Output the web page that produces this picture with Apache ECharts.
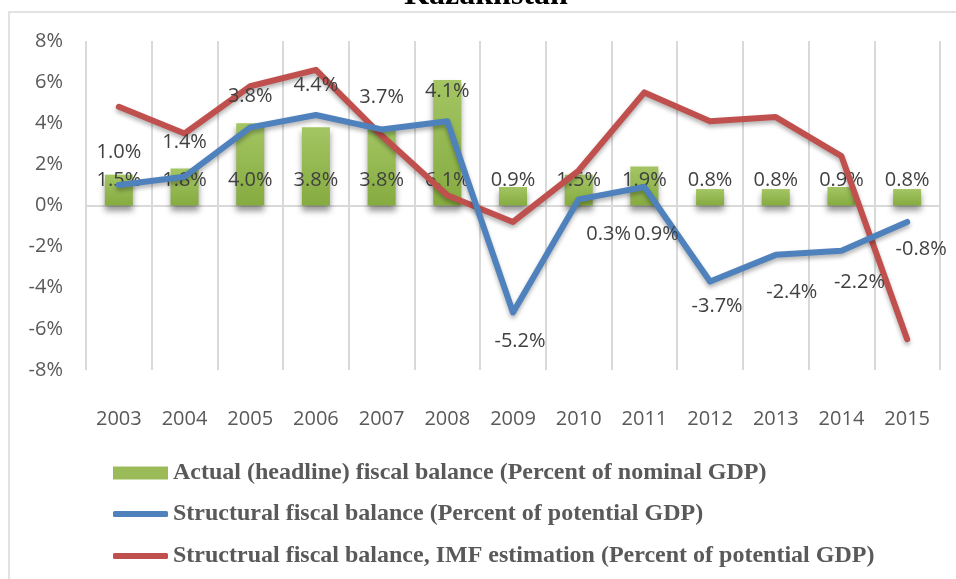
<!DOCTYPE html>
<html>
<head>
<meta charset="utf-8">
<script src="https://cdn.jsdelivr.net/npm/echarts@6/dist/echarts.min.js"></script>
<style>
  html, body { margin: 0; padding: 0; background: #ffffff; }
  #chart { width: 956px; height: 579px; }
</style>
</head>
<body>
<div id="chart"></div>
<script>
// ---- Data ----
const titleText = 'Kazakhstan';
const years = ['2003','2004','2005','2006','2007','2008','2009','2010','2011','2012','2013','2014','2015'];
const actualBalance = [1.5, 1.8, 4.0, 3.8, 3.8, 6.1, 0.9, 1.5, 1.9, 0.8, 0.8, 0.9, 0.8];
const structuralBalance = [1.0, 1.4, 3.8, 4.4, 3.7, 4.1, -5.2, 0.3, 0.9, -3.7, -2.4, -2.2, -0.8];
const imfStructuralBalance = [4.8, 3.5, 5.8, 6.6, 3.4, 0.5, -0.8, 1.7, 5.5, 4.1, 4.3, 2.4, -6.5];
const seriesNames = [
  'Actual (headline) fiscal balance (Percent of nominal GDP)',
  'Structural fiscal balance (Percent of potential GDP)',
  'Structrual fiscal balance, IMF estimation (Percent of potential GDP)'
];
const yTicks = { min: -8, max: 8, interval: 2 };

// ---- Styling (label placement for the structural line, as in reference) ----
const structLabelOffsets = [[0,-33],[0,-34],[0,-31],[0,-30],[0,-32],[0,-30],[7,29],[30,35],[12,47],[7,25],[16,37],[18,32],[14,27]];

const GREEN = '#9bbb59', BLUE = '#4f81bd', RED = '#c0504d';
const labelFont = { fontFamily: '"Open Sans", sans-serif', fontSize: 20, color: '#404040' };
const legendText = { fontFamily: '"Liberation Serif", serif', fontWeight: 'bold', fontSize: 24, color: '#595959' };

const structData = structuralBalance.map((v, i) => ({
  value: v,
  label: { offset: structLabelOffsets[i] }
}));

function legendFor(name, top, color, h) {
  return {
    orient: 'vertical', left: 108, top: top,
    itemWidth: 55, itemHeight: h,
    icon: h > 8 ? 'rect' : 'roundRect',
    itemStyle: { color: color, borderWidth: 0 },
    textStyle: legendText,
    data: [name]
  };
}

const chart = echarts.init(document.getElementById('chart'), null, { renderer: 'canvas' });
chart.setOption({
  animation: false,
  backgroundColor: '#ffffff',
  graphic: [
    { type: 'rect', shape: { x: 9, y: 12, width: 980, height: 620 }, style: { fill: 'none', stroke: '#d9d9d9', lineWidth: 1.5 }, z: -10, silent: true },
    { type: 'text', x: 486, y: 12, style: { text: titleText, font: 'bold 32px "Liberation Serif", serif', fill: '#000000', align: 'center', verticalAlign: 'bottom' }, z: 10 }
  ],
  grid: { left: 86, right: 16, top: 41, bottom: 209, containLabel: false },
  legend: [
    legendFor(seriesNames[0], 456, GREEN, 13),
    legendFor(seriesNames[1], 497, BLUE, 6),
    legendFor(seriesNames[2], 539, RED, 6)
  ],
  xAxis: {
    type: 'category',
    data: years,
    boundaryGap: true,
    axisLine: { show: false },
    axisTick: { show: false },
    splitLine: { show: true, lineStyle: { color: '#d9d9d9', width: 2 } },
    axisLabel: { margin: 39, fontFamily: '"Open Sans", sans-serif', fontSize: 20, color: '#595959' }
  },
  yAxis: {
    type: 'value',
    min: yTicks.min, max: yTicks.max, interval: yTicks.interval,
    axisLine: { show: false },
    axisTick: { show: false },
    splitLine: { show: false },
    axisLabel: { margin: 23, formatter: '{value}%', fontFamily: '"Open Sans", sans-serif', fontSize: 20, color: '#595959' }
  },
  series: [
    {
      name: seriesNames[0],
      type: 'bar',
      data: actualBalance,
      barWidth: 28,
      itemStyle: {
        color: new echarts.graphic.LinearGradient(0, 0, 0, 1, [
          { offset: 0, color: '#a3c563' },
          { offset: 1, color: '#86ab40' }
        ]),
        shadowColor: 'rgba(0,0,0,0.4)', shadowBlur: 6, shadowOffsetY: 5
      },
      label: {
        show: true, position: 'insideBottom', distance: 15,
        formatter: p => p.value.toFixed(1) + '%',
        ...labelFont
      },
      markLine: {
        silent: true, symbol: 'none', label: { show: false },
        lineStyle: { color: '#d9d9d9', width: 2, type: 'solid' },
        data: [{ yAxis: 0 }],
        z: 1
      },
      z: 2
    },
    {
      name: seriesNames[1],
      type: 'line',
      data: structData,
      symbol: 'circle', symbolSize: 1, showSymbol: true,
      itemStyle: { color: BLUE },
      lineStyle: { color: BLUE, width: 6, cap: 'round', join: 'round', shadowColor: 'rgba(0,0,0,0.3)', shadowBlur: 4, shadowOffsetY: 3 },
      label: {
        show: true, position: 'inside',
        formatter: p => p.value.toFixed(1) + '%',
        ...labelFont
      },
      z: 4
    },
    {
      name: seriesNames[2],
      type: 'line',
      data: imfStructuralBalance,
      symbol: 'none',
      itemStyle: { color: RED },
      lineStyle: { color: RED, width: 6, cap: 'round', join: 'round', shadowColor: 'rgba(0,0,0,0.3)', shadowBlur: 4, shadowOffsetY: 3 },
      z: 3
    }
  ]
});
</script>
</body>
</html>
